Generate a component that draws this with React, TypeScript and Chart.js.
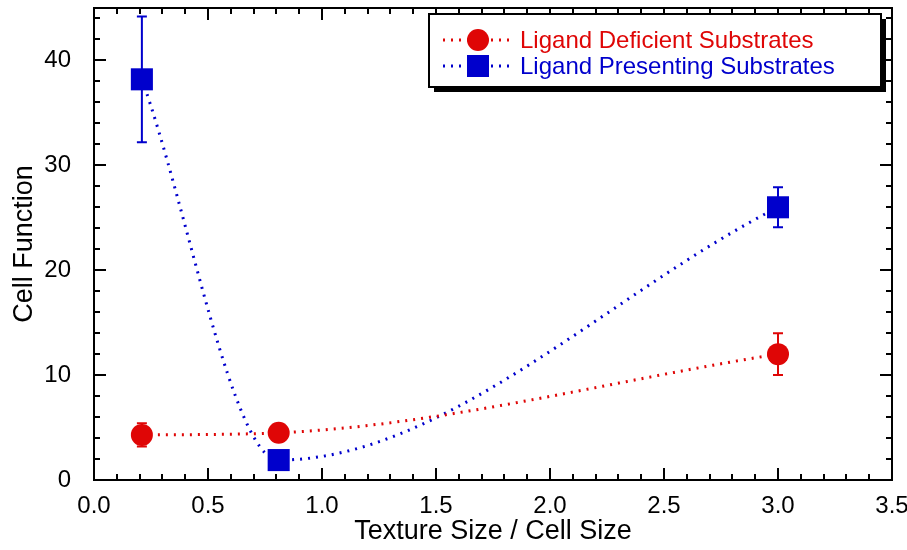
import React, { useEffect, useRef } from 'react';
import { Chart, registerables } from 'chart.js';

Chart.register(...registerables);

const seriesLabels = ['Ligand Deficient Substrates', 'Ligand Presenting Substrates'];
const seriesColors = ['#df0606', '#0000cc'];
const deficientX = [0.21, 0.81, 3.0];
const deficientY = [4.3, 4.5, 12.0];
const deficientErr = [1.1, 0.3, 2.0];
const presentingX = [0.21, 0.81, 3.0];
const presentingY = [38.2, 1.9, 26.0];
const presentingErr = [6.0, 0.5, 1.9];
const xTickLabels = ['0.0', '0.5', '1.0', '1.5', '2.0', '2.5', '3.0', '3.5'];
const yTickLabels = ['0', '10', '20', '30', '40'];
const xTitle = 'Texture Size / Cell Size';
const yTitle = 'Cell Function';
const X_MIN = 0;
const X_MAX = 3.5;
const X_MINOR = 0.1;
const Y_MIN = 0;
const Y_MAX = 45;
const Y_MINOR = 2;

const FONT = "'Liberation Sans', Arial, Helvetica, sans-serif";

const errors = [deficientErr, presentingErr];

const errorBarPlugin = {
  id: 'errorBars',
  beforeDatasetsDraw(chart: any) {
    const ctx = chart.ctx;
    const xs = chart.scales.x;
    const ys = chart.scales.y;
    chart.data.datasets.forEach((ds: any, i: number) => {
      const err = errors[i];
      ctx.save();
      ctx.strokeStyle = seriesColors[i];
      ctx.lineWidth = 2;
      ds.data.forEach((p: any, j: number) => {
        const x = xs.getPixelForValue(p.x);
        const y1 = ys.getPixelForValue(p.y + err[j]);
        const y2 = ys.getPixelForValue(p.y - err[j]);
        ctx.beginPath();
        ctx.moveTo(x, y1);
        ctx.lineTo(x, y2);
        ctx.moveTo(x - 5, y1);
        ctx.lineTo(x + 5, y1);
        ctx.moveTo(x - 5, y2);
        ctx.lineTo(x + 5, y2);
        ctx.stroke();
      });
      ctx.restore();
    });
  },
};

const framePlugin = {
  id: 'frameTicks',
  afterDatasetsDraw(chart: any) {
    const ctx = chart.ctx;
    const { left, right, top, bottom } = chart.chartArea;
    const xs = chart.scales.x;
    const ys = chart.scales.y;
    ctx.save();
    ctx.strokeStyle = '#000';
    ctx.lineWidth = 2;
    ctx.beginPath();
    const nx = Math.round((X_MAX - X_MIN) / X_MINOR);
    for (let k = 0; k <= nx; k++) {
      const v = X_MIN + k * X_MINOR;
      const x = Math.round(xs.getPixelForValue(v));
      const major = k % 5 === 0;
      const len = major ? 12 : 6;
      ctx.moveTo(x, bottom);
      ctx.lineTo(x, bottom - len);
      ctx.moveTo(x, top);
      ctx.lineTo(x, top + len);
    }
    const ny = Math.floor((Y_MAX - Y_MIN) / Y_MINOR);
    for (let k = 0; k <= ny; k++) {
      const v = Y_MIN + k * Y_MINOR;
      const y = Math.round(ys.getPixelForValue(v));
      const major = k % 5 === 0;
      const len = major ? 12 : 6;
      ctx.moveTo(left, y);
      ctx.lineTo(left + len, y);
      ctx.moveTo(right, y);
      ctx.lineTo(right - len, y);
    }
    ctx.stroke();
    ctx.beginPath();
    ctx.rect(left, top, right - left, bottom - top);
    ctx.stroke();
    ctx.restore();
  },
};

const legendPlugin = {
  id: 'customLegend',
  afterDraw(chart: any) {
    const ctx = chart.ctx;
    const bx = 429, by = 14, bw = 452, bh = 73;
    ctx.save();
    ctx.fillStyle = '#000';
    ctx.fillRect(bx + 5, by + 5, bw, bh);
    ctx.fillStyle = '#fff';
    ctx.fillRect(bx, by, bw, bh);
    ctx.strokeStyle = '#000';
    ctx.lineWidth = 2;
    ctx.strokeRect(bx, by, bw, bh);
    const rows = [40, 66];
    chart.data.datasets.forEach((ds: any, i: number) => {
      const y = rows[i];
      ctx.strokeStyle = seriesColors[i];
      ctx.lineWidth = 3;
      ctx.setLineDash([2, 6]);
      ctx.beginPath();
      ctx.moveTo(443, y);
      ctx.lineTo(511, y);
      ctx.stroke();
      ctx.setLineDash([]);
      ctx.fillStyle = seriesColors[i];
      if (i === 0) {
        ctx.beginPath();
        ctx.arc(478, y, 11, 0, Math.PI * 2);
        ctx.fill();
      } else {
        ctx.fillRect(467, y - 11, 22, 22);
      }
      ctx.font = `24px ${FONT}`;
      ctx.textAlign = 'left';
      ctx.textBaseline = 'middle';
      ctx.fillText(ds.label, 520, y + 1);
    });
    ctx.restore();
  },
};

const zeroPad = (s: any) => {
  s.paddingTop = 0;
  s.paddingBottom = 0;
  s.paddingLeft = 0;
  s.paddingRight = 0;
};

export default function App() {
  const ref = useRef<HTMLCanvasElement | null>(null);
  useEffect(() => {
    document.body.style.margin = '0';
    const canvas = ref.current;
    if (!canvas) return;
    const mk = (xs: number[], ys: number[]) => xs.map((x, i) => ({ x, y: ys[i] }));
    const chart = new Chart(canvas, {
      type: 'line',
      data: {
        datasets: [
          {
            label: seriesLabels[0],
            data: mk(deficientX, deficientY),
            borderColor: seriesColors[0],
            backgroundColor: seriesColors[0],
            borderWidth: 3,
            borderDash: [2, 6],
            cubicInterpolationMode: 'monotone',
            pointStyle: 'circle',
            pointRadius: 11,
            pointBorderWidth: 0,
            fill: false,
          },
          {
            label: seriesLabels[1],
            data: mk(presentingX, presentingY),
            borderColor: seriesColors[1],
            backgroundColor: seriesColors[1],
            borderWidth: 3,
            borderDash: [2, 6],
            cubicInterpolationMode: 'monotone',
            pointStyle: 'rect',
            pointRadius: 15.6,
            pointBorderWidth: 0,
            fill: false,
          },
        ],
      },
      options: {
        animation: false,
        responsive: false,
        maintainAspectRatio: false,
        layout: { autoPadding: false, padding: { top: 8, right: 15, left: 0, bottom: 0 } },
        plugins: { legend: { display: false }, tooltip: { enabled: false } },
        scales: {
          x: {
            type: 'linear',
            min: X_MIN,
            max: X_MAX,
            grid: { display: false, drawTicks: false },
            border: { display: false },
            afterBuildTicks: (s: any) => {
              s.ticks = xTickLabels.map((t) => ({ value: parseFloat(t) }));
            },
            afterFit: (s: any) => {
              s.height = 70;
              zeroPad(s);
            },
            ticks: {
              padding: 12,
              color: '#000',
              font: { family: FONT, size: 24 },
              callback: (v: any) => {
                const i = xTickLabels.findIndex((t) => Math.abs(parseFloat(t) - v) < 1e-6);
                return i >= 0 ? xTickLabels[i] : '';
              },
              maxRotation: 0,
              autoSkip: false,
            },
            title: {
              display: true,
              text: xTitle,
              color: '#000',
              font: { family: FONT, size: 27 },
              padding: { top: 0, bottom: 2 },
            },
          },
          y: {
            type: 'linear',
            min: Y_MIN,
            max: Y_MAX,
            grid: { display: false, drawTicks: false },
            border: { display: false },
            afterBuildTicks: (s: any) => {
              s.ticks = yTickLabels.map((t) => ({ value: parseFloat(t) }));
            },
            afterFit: (s: any) => {
              s.width = 94;
              zeroPad(s);
            },
            ticks: {
              padding: 23,
              color: '#000',
              font: { family: FONT, size: 24 },
              callback: (v: any) => {
                const i = yTickLabels.findIndex((t) => Math.abs(parseFloat(t) - v) < 1e-6);
                return i >= 0 ? yTickLabels[i] : '';
              },
              autoSkip: false,
            },
            title: {
              display: true,
              text: yTitle,
              color: '#000',
              font: { family: FONT, size: 27 },
              padding: { top: 8, bottom: 0 },
            },
          },
        },
      },
      plugins: [errorBarPlugin, framePlugin, legendPlugin],
    } as any);
    return () => chart.destroy();
  }, []);
  return (
    <div style={{ width: 907, height: 550, background: '#fff' }}>
      <canvas ref={ref} width={907} height={550} style={{ display: 'block' }} />
    </div>
  );
}
